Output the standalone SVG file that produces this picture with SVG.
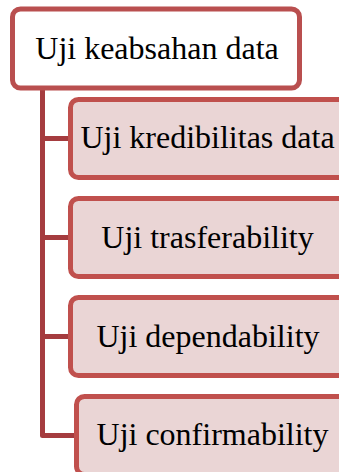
<svg xmlns="http://www.w3.org/2000/svg" width="339" height="472" viewBox="0 0 339 472">
  <style>
    .root rect { fill: #ffffff; stroke: #b94f4f; stroke-width: 5; }
    .child rect { fill: #ead5d5; stroke: #c0504d; stroke-width: 5; }
    text { font-family: "Liberation Serif", "Times New Roman", serif; font-size: 32px; fill: #000000; text-anchor: middle; }
    .conn { fill: none; stroke: #a53c3f; stroke-width: 5; stroke-linejoin: round; }
  </style>

  <!-- hierarchy connectors -->
  <g id="connectors">
    <path class="conn" d="M42.5,88 V435.5 H76"/>
    <path class="conn" d="M42.5,138.5 H70"/>
    <path class="conn" d="M42.5,237.5 H70"/>
    <path class="conn" d="M42.5,336.5 H70"/>
  </g>

  <g id="node-root" class="root">
    <rect x="12.5" y="9" width="287" height="79" rx="8"/>
    <text x="157" y="59">Uji keabsahan data</text>
  </g>

  <g id="node-kredibilitas" class="child">
    <rect x="70.5" y="99.5" width="276" height="78" rx="8"/>
    <text x="207.5" y="148">Uji kredibilitas data</text>
  </g>

  <g id="node-trasferability" class="child">
    <rect x="70.5" y="198.5" width="276" height="78" rx="8"/>
    <text x="207.5" y="248">Uji trasferability</text>
  </g>

  <g id="node-dependability" class="child">
    <rect x="70.5" y="297.5" width="276" height="78" rx="8"/>
    <text x="208" y="346.5">Uji dependability</text>
  </g>

  <g id="node-confirmability" class="child">
    <rect x="76.5" y="396.5" width="276" height="78" rx="8"/>
    <text x="212.5" y="445">Uji confirmability</text>
  </g>
</svg>
